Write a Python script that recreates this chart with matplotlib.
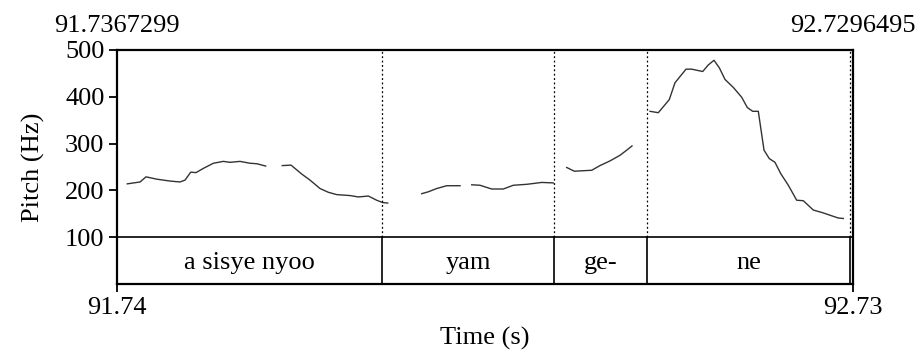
import matplotlib.pyplot as plt
import numpy as np

plt.rcParams['font.family'] = ['Liberation Serif', 'DejaVu Serif']
plt.rcParams['font.size'] = 19

t_start = 91.7367299
t_end = 92.7296495

# pitch track, split where voicing drops out (s, Hz)
seg_t = [
    [91.7506, 91.7678, 91.7759, 91.7903, 91.8082, 91.8217, 91.8285, 91.8362,
     91.8433, 91.8532, 91.8667, 91.8801, 91.8892, 91.9027, 91.9162, 91.9252, 91.9373],
    [91.9597, 91.9715, 91.9859, 91.9971, 92.0106, 92.0218, 92.0331, 92.0511,
     92.0623, 92.0758, 92.0871, 92.0952, 92.1019],
    [92.1478, 92.1567, 92.1680, 92.1815, 92.1995],
    [92.2153, 92.2264, 92.2422, 92.2579, 92.2714, 92.2895, 92.3097, 92.3253],
    [92.3434, 92.3537, 92.3771, 92.3883, 92.4018, 92.4153, 92.4244, 92.4315],
    [92.4558, 92.4670, 92.4818, 92.4895, 92.5044, 92.5121, 92.5269, 92.5344,
     92.5421, 92.5493, 92.5570, 92.5682, 92.5795, 92.5871, 92.5943, 92.6019,
     92.6096, 92.6167, 92.6244, 92.6321, 92.6424, 92.6537, 92.6626, 92.6761,
     92.6874, 92.6986, 92.7098, 92.7166],
]
seg_f0 = [
    [214, 218, 229, 224, 220, 218, 222, 239, 238, 247, 258, 262, 260, 262, 258, 257, 252],
    [253, 254, 235, 222, 204, 196, 191, 189, 186, 188, 179, 174, 173],
    [193, 197, 204, 210, 210],
    [212, 211, 203, 203, 211, 213, 217, 216],
    [249, 241, 243, 253, 263, 275, 286, 295],
    [369, 366, 394, 430, 459, 459, 454, 468, 478, 462, 437, 420, 399, 377,
     369, 369, 286, 268, 260, 236, 211, 179, 178, 158, 153, 147, 141, 140],
]

# word tier
bounds = [92.0942, 92.3263, 92.4517, 92.7256]
words = ['a sisye nyoo', 'yam', 'ge-', 'ne']

f_min, f_max = 100, 500
yticks = [100, 200, 300, 400, 500]

fig = plt.figure(figsize=(9.17, 3.54), dpi=100)
ax = fig.add_axes([0.1276, 0.1977, 0.8026, 0.6611])

for tt, ff in zip(seg_t, seg_f0):
    ax.plot(tt, ff, color='#333333', lw=1.0)

# tier area under the pitch panel
ax.axhline(f_min, color='black', lw=1.2)
for b in bounds:
    ax.plot([b, b], [f_min, f_max], color='black', lw=0.9, ls=(0, (1.5, 2)))
    ax.plot([b, b], [0, f_min], color='black', lw=1.2)

edges = [t_start] + bounds
for a, b, w in zip(edges[:-1], edges[1:], words):
    ax.text((a + b) / 2, 45, w, ha='center', va='center')

ax.set_xlim(t_start, t_end)
ax.set_ylim(0, f_max)

for s in ax.spines.values():
    s.set_linewidth(1.6)

ax.set_yticks(yticks)
ax.set_xticks([t_start, t_end])
ax.set_xticklabels(['91.74', '92.73'])
ax.tick_params(direction='out', length=6, width=1.3, pad=3)

ax.text(t_start, 1.055, '91.7367299', transform=ax.get_xaxis_transform(),
        ha='center', va='bottom')
ax.text(t_end, 1.055, '92.7296495', transform=ax.get_xaxis_transform(),
        ha='center', va='bottom')

ax.set_ylabel('Pitch (Hz)')
ax.yaxis.set_label_coords(-0.098, 0.5)
ax.set_xlabel('Time (s)', labelpad=6)

fig.savefig('out.png', dpi=100)
